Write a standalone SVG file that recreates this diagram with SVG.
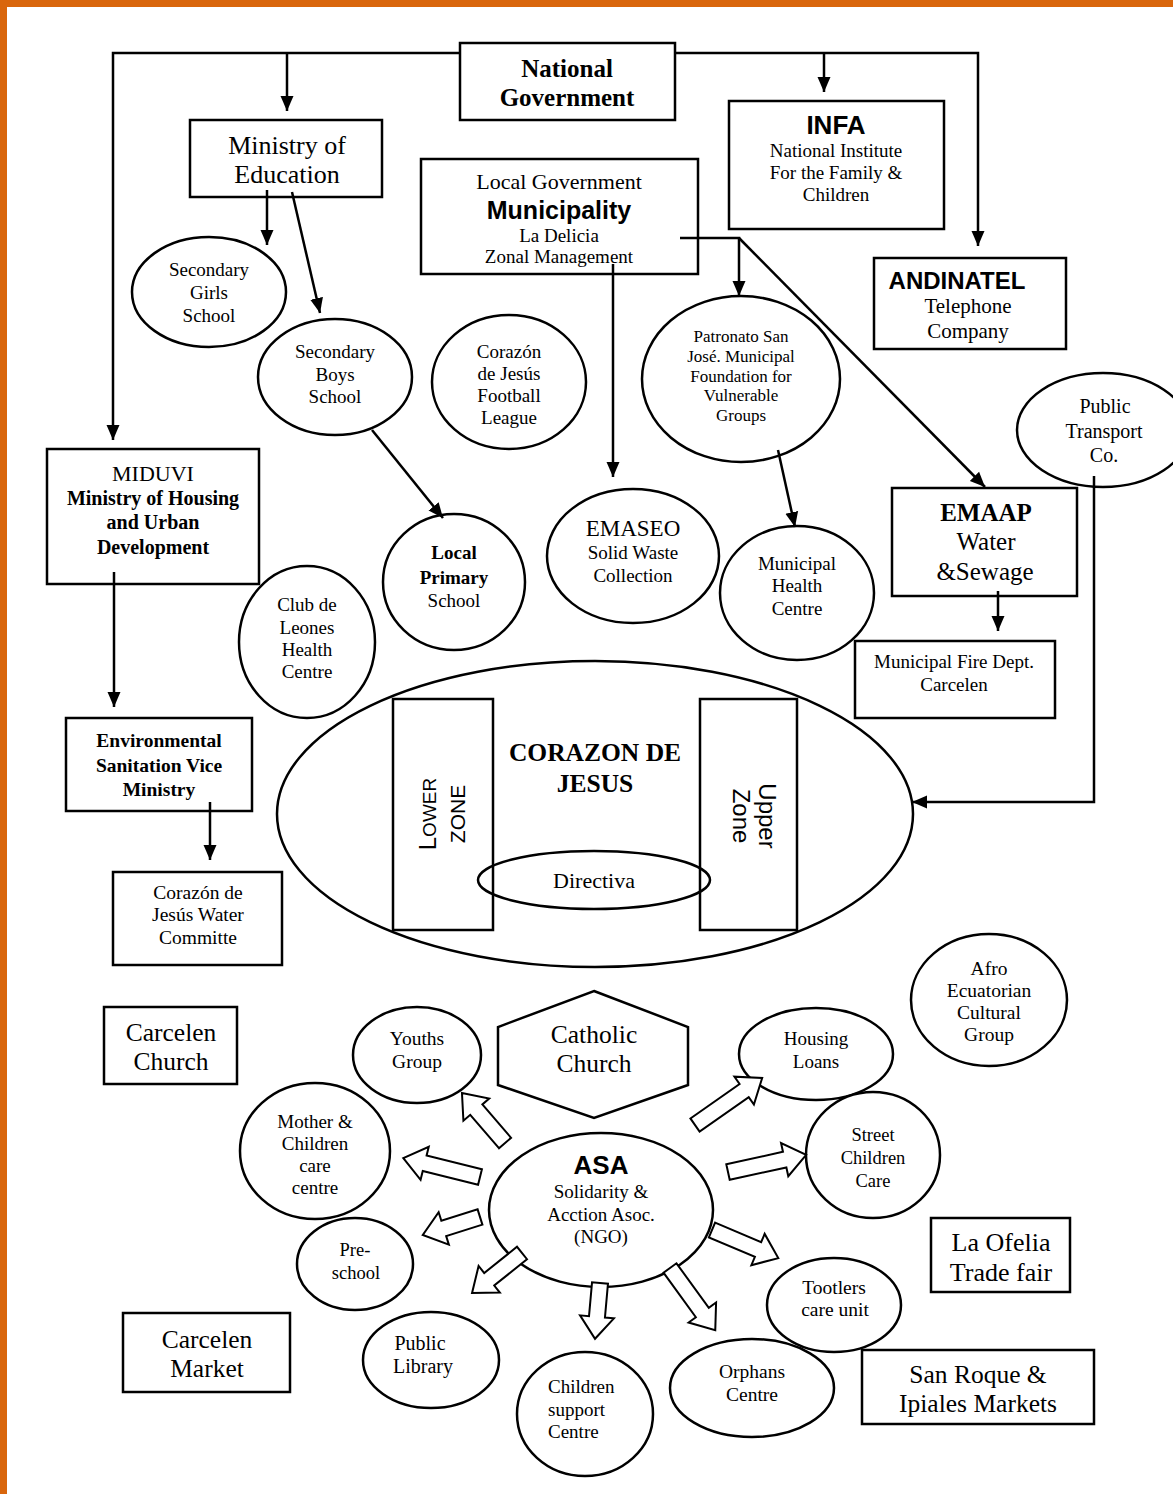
<svg xmlns="http://www.w3.org/2000/svg" width="1173" height="1494" viewBox="0 0 1173 1494">
<style>
.s{fill:#fff;stroke:#000;stroke-width:2.5}
.n{fill:none;stroke:#000;stroke-width:2.5}
.bl{fill:#fff;stroke:#000;stroke-width:2}
.c{stroke:#000;stroke-width:2.5;fill:none}
text{font-family:"Liberation Serif","Times New Roman",serif;text-anchor:middle;fill:#000}
.sans{font-family:"Liberation Sans",Arial,sans-serif}
.b{font-weight:bold}
.st{text-anchor:start}
</style>
<defs>
<marker id="ah" markerUnits="userSpaceOnUse" markerWidth="16" markerHeight="16" viewBox="0 0 16 16" refX="15" refY="8" orient="auto">
<path d="M0,1.5 L15,8 L0,14.5 Z" fill="#000"/>
</marker>
</defs>
<rect x="0" y="0" width="1173" height="1494" fill="#fff"/>
<rect x="0" y="0" width="1173" height="7" fill="#D9660C"/>
<rect x="0" y="0" width="7" height="1494" fill="#D9660C"/>

<g id="national-government"><rect class="s" x="460" y="43" width="215" height="77"/>
<text class="b" font-size="25" x="567" y="77">National</text><text class="b" font-size="25" x="567" y="106">Government</text></g>

<g id="ministry-education"><rect class="s" x="190" y="120" width="192" height="77"/>
<text font-size="26" x="287" y="154">Ministry of</text><text font-size="26" x="287" y="183">Education</text></g>

<g id="local-government"><rect class="s" x="421" y="159" width="277" height="115"/>
<text font-size="22" x="559" y="189">Local Government</text>
<text class="sans b" font-size="25" x="559" y="219">Municipality</text>
<text font-size="19" x="559" y="242">La Delicia</text>
<text font-size="19" x="559" y="263">Zonal Management</text></g>

<g id="infa"><rect class="s" x="729" y="101" width="215" height="128"/>
<text class="sans b" font-size="26" x="836" y="134">INFA</text>
<text font-size="19" x="836" y="157">National Institute</text>
<text font-size="19" x="836" y="179">For the Family &amp;</text>
<text font-size="19" x="836" y="201">Children</text></g>

<g id="andinatel"><rect class="s" x="874" y="258" width="192" height="91"/>
<text class="sans b" font-size="24" x="957" y="289">ANDINATEL</text>
<text font-size="21" x="968" y="313">Telephone</text>
<text font-size="21" x="968" y="338">Company</text></g>

<g id="secondary-girls"><ellipse class="s" cx="209" cy="292" rx="77" ry="55"/>
<text font-size="19" x="209" y="276">Secondary</text><text font-size="19" x="209" y="299">Girls</text><text font-size="19" x="209" y="322">School</text></g>

<g id="secondary-boys"><ellipse class="s" cx="335" cy="377" rx="77" ry="58"/>
<text font-size="19" x="335" y="358">Secondary</text><text font-size="19" x="335" y="381">Boys</text><text font-size="19" x="335" y="403">School</text></g>

<g id="football-league"><ellipse class="s" cx="509" cy="382" rx="77" ry="67"/>
<text font-size="19" x="509" y="358">Corazón</text><text font-size="19" x="509" y="380">de Jesús</text><text font-size="19" x="509" y="402">Football</text><text font-size="19" x="509" y="424">League</text></g>

<g id="patronato"><ellipse class="s" cx="741" cy="379" rx="99" ry="83"/>
<text font-size="17" x="741" y="342">Patronato San</text><text font-size="17" x="741" y="362">José. Municipal</text><text font-size="17" x="741" y="382">Foundation for</text><text font-size="17" x="741" y="401">Vulnerable</text><text font-size="17" x="741" y="421">Groups</text></g>

<g id="public-transport"><ellipse class="s" cx="1103" cy="430" rx="86" ry="57"/>
<text font-size="20" x="1105" y="413">Public</text><text font-size="20" x="1104" y="438">Transport</text><text font-size="20" x="1104" y="462">Co.</text></g>

<g id="miduvi"><rect class="s" x="47" y="449" width="212" height="135"/>
<text font-size="22" x="153" y="481">MIDUVI</text>
<text class="b" font-size="20" x="153" y="505">Ministry of Housing</text>
<text class="b" font-size="20" x="153" y="529">and Urban</text>
<text class="b" font-size="20" x="153" y="554">Development</text></g>

<g id="local-primary"><ellipse class="s" cx="454" cy="582" rx="71" ry="68"/>
<text class="b" font-size="19" x="454" y="559">Local</text><text class="b" font-size="19" x="454" y="584">Primary</text><text font-size="19" x="454" y="607">School</text></g>

<g id="emaseo"><ellipse class="s" cx="633" cy="556" rx="86" ry="67"/>
<text font-size="23" x="633" y="536">EMASEO</text><text font-size="19" x="633" y="559">Solid Waste</text><text font-size="19" x="633" y="582">Collection</text></g>

<g id="municipal-health"><ellipse class="s" cx="797" cy="593" rx="77" ry="67"/>
<text font-size="19" x="797" y="570">Municipal</text><text font-size="19" x="797" y="592">Health</text><text font-size="19" x="797" y="615">Centre</text></g>

<g id="emaap"><rect class="s" x="892" y="488" width="185" height="108"/>
<text class="b" font-size="25" x="986" y="521">EMAAP</text><text font-size="25" x="986" y="550">Water</text><text font-size="25" x="985" y="580">&amp;Sewage</text></g>

<g id="fire-dept"><rect class="s" x="855" y="641" width="200" height="77"/>
<text font-size="19" x="954" y="668">Municipal Fire Dept.</text><text font-size="19" x="954" y="691">Carcelen</text></g>

<g id="club-leones"><ellipse class="s" cx="307" cy="642" rx="68" ry="76"/>
<text font-size="19" x="307" y="611">Club de</text><text font-size="19" x="307" y="634">Leones</text><text font-size="19" x="307" y="656">Health</text><text font-size="19" x="307" y="678">Centre</text></g>

<g id="env-sanitation"><rect class="s" x="66" y="718" width="186" height="93"/>
<text class="b" font-size="19.5" x="159" y="747">Environmental</text><text class="b" font-size="19.5" x="159" y="772">Sanitation Vice</text><text class="b" font-size="19.5" x="159" y="796">Ministry</text></g>

<g id="water-committee"><rect class="s" x="113" y="872" width="169" height="93"/>
<text font-size="19.5" x="198" y="899">Corazón de</text><text font-size="19.5" x="198" y="921">Jesús Water</text><text font-size="19.5" x="198" y="944">Committe</text></g>

<g id="corazon-de-jesus"><ellipse class="s" cx="595" cy="814" rx="318" ry="153"/>
<rect class="s" x="393" y="699" width="100" height="231"/>
<rect class="s" x="700" y="699" width="97" height="231"/>
<text class="b" font-size="25.5" x="595" y="761">CORAZON DE</text><text class="b" font-size="25.5" x="595" y="792">JESUS</text>
<text class="sans" transform="translate(436,814) rotate(-90)"><tspan font-size="24">L</tspan><tspan font-size="19">OWER</tspan></text>
<text class="sans" font-size="21" transform="translate(465,814) rotate(-90)">ZONE</text>
<text class="sans" font-size="24" transform="translate(759,816) rotate(90)">Upper</text>
<text class="sans" font-size="24" transform="translate(733,816) rotate(90)">Zone</text>
</g>
<g id="directiva"><ellipse class="n" cx="594" cy="880" rx="116" ry="29"/>
<text font-size="22" x="594" y="888">Directiva</text></g>

<g id="carcelen-church"><rect class="s" x="104" y="1007" width="133" height="77"/>
<text font-size="25.5" x="171" y="1041">Carcelen</text><text font-size="25.5" x="171" y="1070">Church</text></g>

<g id="catholic-church"><path class="s" d="M594,991 L688,1027 L688,1085 L594,1118 L498,1085 L498,1027 Z"/>
<text font-size="25.5" x="594" y="1043">Catholic</text><text font-size="25.5" x="594" y="1072">Church</text></g>

<g id="youths-group"><ellipse class="s" cx="417" cy="1055" rx="64" ry="48"/>
<text font-size="19.5" x="417" y="1045">Youths</text><text font-size="19.5" x="417" y="1068">Group</text></g>

<g id="mother-children"><ellipse class="s" cx="315" cy="1151" rx="75" ry="68"/>
<text font-size="19" x="315" y="1128">Mother &amp;</text><text font-size="19" x="315" y="1150">Children</text><text font-size="19" x="315" y="1172">care</text><text font-size="19" x="315" y="1194">centre</text></g>

<g id="afro-ecuatorian"><ellipse class="s" cx="989" cy="1000" rx="78" ry="66"/>
<text font-size="19.5" x="989" y="975">Afro</text><text font-size="19.5" x="989" y="997">Ecuatorian</text><text font-size="19.5" x="989" y="1019">Cultural</text><text font-size="19.5" x="989" y="1041">Group</text></g>

<g id="housing-loans"><ellipse class="s" cx="816" cy="1054" rx="77" ry="46"/>
<text font-size="19" x="816" y="1045">Housing</text><text font-size="19" x="816" y="1068">Loans</text></g>

<g id="street-children"><ellipse class="s" cx="873" cy="1155" rx="67" ry="63"/>
<text font-size="18.5" x="873" y="1141">Street</text><text font-size="18.5" x="873" y="1164">Children</text><text font-size="18.5" x="873" y="1187">Care</text></g>

<g id="asa"><ellipse class="s" cx="601" cy="1210" rx="112" ry="77"/>
<text class="sans b" font-size="26" x="601" y="1174">ASA</text>
<text font-size="19" x="601" y="1198">Solidarity &amp;</text><text font-size="19" x="601" y="1221">Acction Asoc.</text><text font-size="19" x="601" y="1243">(NGO)</text></g>

<g id="pre-school"><ellipse class="s" cx="355" cy="1264" rx="58" ry="46"/>
<text font-size="18.5" x="355" y="1256">Pre-</text><text font-size="18.5" x="356" y="1279">school</text></g>

<g id="la-ofelia"><rect class="s" x="931" y="1218" width="139" height="74"/>
<text font-size="26" x="1001" y="1251">La Ofelia</text><text font-size="26" x="1001" y="1281">Trade fair</text></g>

<g id="tootlers"><ellipse class="s" cx="834" cy="1305" rx="67" ry="47"/>
<text font-size="19.5" x="834" y="1294">Tootlers</text><text font-size="19.5" x="835" y="1316">care unit</text></g>

<g id="carcelen-market"><rect class="s" x="123" y="1313" width="167" height="79"/>
<text font-size="25.5" x="207" y="1348">Carcelen</text><text font-size="25.5" x="207" y="1377">Market</text></g>

<g id="public-library"><ellipse class="s" cx="431" cy="1360" rx="68" ry="48"/>
<text font-size="20" x="420" y="1350">Public</text><text font-size="20" x="423" y="1373">Library</text></g>

<g id="san-roque"><rect class="s" x="862" y="1350" width="232" height="74"/>
<text font-size="25.5" x="978" y="1383">San Roque &amp;</text><text font-size="25.5" x="978" y="1412">Ipiales Markets</text></g>

<g id="orphans"><ellipse class="s" cx="752" cy="1388" rx="82" ry="49"/>
<text font-size="19.5" x="752" y="1378">Orphans</text><text font-size="19.5" x="752" y="1401">Centre</text></g>

<g id="children-support"><ellipse class="s" cx="585" cy="1414" rx="68" ry="62"/>
<text class="st" font-size="19" x="548" y="1393">Children</text><text class="st" font-size="19" x="548" y="1416">support</text><text class="st" font-size="19" x="548" y="1438">Centre</text></g>

<g id="connectors">
<path class="c" d="M460,53 L113,53 L113,440" marker-end="url(#ah)"/>
<path class="c" d="M675,53 L978,53 L978,246" marker-end="url(#ah)"/>
<path class="c" d="M287,53 L287,111" marker-end="url(#ah)"/>
<path class="c" d="M824,53 L824,92" marker-end="url(#ah)"/>
<path class="c" d="M267,190 L267,245" marker-end="url(#ah)"/>
<path class="c" d="M292,192 L320,313" marker-end="url(#ah)"/>
<path class="c" d="M613,264 L613,477" marker-end="url(#ah)"/>
<path class="c" d="M680,238 L739,238 L739,296" marker-end="url(#ah)"/>
<path class="c" d="M739,238 L985,487" marker-end="url(#ah)"/>
<path class="c" d="M778,450 L795,527" marker-end="url(#ah)"/>
<path class="c" d="M372,430 L443,518" marker-end="url(#ah)"/>
<path class="c" d="M114,572 L114,707" marker-end="url(#ah)"/>
<path class="c" d="M210,802 L210,860" marker-end="url(#ah)"/>
<path class="c" d="M998,591 L998,631" marker-end="url(#ah)"/>
<path class="c" d="M1094,476 L1094,802 L912,802" marker-end="url(#ah)"/>
<path class="bl" transform="translate(505,1143) rotate(-130.7)" d="M0,-8 L44,-8 L44,-17 L66,0 L44,17 L44,8 L0,8 Z"/>
<path class="bl" transform="translate(480,1177) rotate(-166.1)" d="M0,-8 L57,-8 L57,-17 L79,0 L57,17 L57,8 L0,8 Z"/>
<path class="bl" transform="translate(480,1217) rotate(162.5)" d="M0,-8 L38,-8 L38,-17 L60,0 L38,17 L38,8 L0,8 Z"/>
<path class="bl" transform="translate(522,1253) rotate(141.3)" d="M0,-8 L42,-8 L42,-17 L64,0 L42,17 L42,8 L0,8 Z"/>
<path class="bl" transform="translate(600,1283) rotate(95.1)" d="M0,-8 L34,-8 L34,-17 L56,0 L34,17 L34,8 L0,8 Z"/>
<path class="bl" transform="translate(670,1268) rotate(54)" d="M0,-8 L55,-8 L55,-17 L77,0 L55,17 L55,8 L0,8 Z"/>
<path class="bl" transform="translate(712,1230) rotate(23)" d="M0,-8 L50,-8 L50,-17 L72,0 L50,17 L50,8 L0,8 Z"/>
<path class="bl" transform="translate(728,1172) rotate(-12.3)" d="M0,-8 L58,-8 L58,-17 L80,0 L58,17 L58,8 L0,8 Z"/>
<path class="bl" transform="translate(695,1125) rotate(-35)" d="M0,-8 L60,-8 L60,-17 L82,0 L60,17 L60,8 L0,8 Z"/>
</g>
</svg>
